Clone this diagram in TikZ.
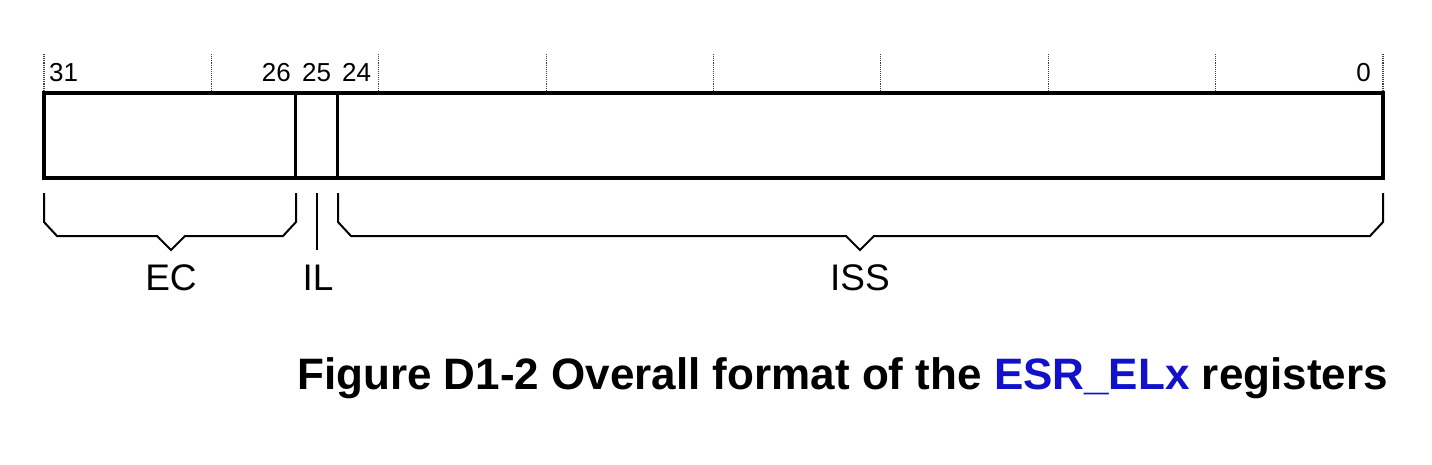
\documentclass[tikz,border=0pt]{standalone}
\usepackage{fontspec}
\setmainfont{Liberation Sans}
\definecolor{armblue}{RGB}{17,17,204}
\begin{document}
\begin{tikzpicture}[x=1pt,y=-1pt,
  tickline/.style={densely dotted,line width=1.1pt,black!75},
  bracel/.style={line width=2pt,line join=miter},
  boxline/.style={line width=3.6pt},
  bitnum/.style={font=\fontsize{26}{26}\selectfont,inner sep=0pt,anchor=base},
  fieldname/.style={font=\fontsize{37}{37}\selectfont,inner sep=0pt,anchor=base},
  captxt/.style={font=\bfseries\fontsize{44}{44}\selectfont,inner sep=0pt,anchor=base east}]
\useasboundingbox (0,0) rectangle (1432,464);
% dotted ticks
\foreach \k in {0,...,8}{
  \draw[tickline] ({44+167.375*\k},54) -- ({44+167.375*\k},90);
}
% register box
\coordinate (tl) at (44,93);
\coordinate (br) at (1383,178);
\draw[boxline] (tl) rectangle (br);
\coordinate (d1t) at (295.5,93); \coordinate (d1b) at (295.5,178);
\coordinate (d2t) at (337.5,93); \coordinate (d2b) at (337.5,178);
\draw[boxline] (d1t) -- (d1b);
\draw[boxline] (d2t) -- (d2b);
% bit numbers
\node[bitnum,anchor=base west] (b31) at (49,81) {31};
\node[bitnum,anchor=base east] (b26) at (291,81) {26};
\node[bitnum] (b25) at (316.5,81) {25};
\node[bitnum,anchor=base west] (b24) at (342,81) {24};
\node[bitnum,anchor=base east] (b0) at (1371,81) {0};
% braces
\draw[bracel] (44,193) -- (44,222) -- (57,236) -- (157,236) -- (171,250) -- (185,236) -- (283,236) -- (296,222) -- (296,193);
\draw[bracel] (316.5,193) -- (316.5,250);
\draw[bracel] (338,193) -- (338,222) -- (351,236) -- (846,236) -- (860,250) -- (874,236) -- (1370,236) -- (1383,222) -- (1383,193);
% field names
\node[fieldname] (ec) at (171,290) {EC};
\node[fieldname] (il) at (318,290) {IL};
\node[fieldname] (iss) at (860,290) {ISS};
% caption
\node[captxt] (cap) at (1388,389) {Figure D1-2 Overall format of the \textcolor{armblue}{ESR\_ELx} registers};
\end{tikzpicture}
\end{document}
